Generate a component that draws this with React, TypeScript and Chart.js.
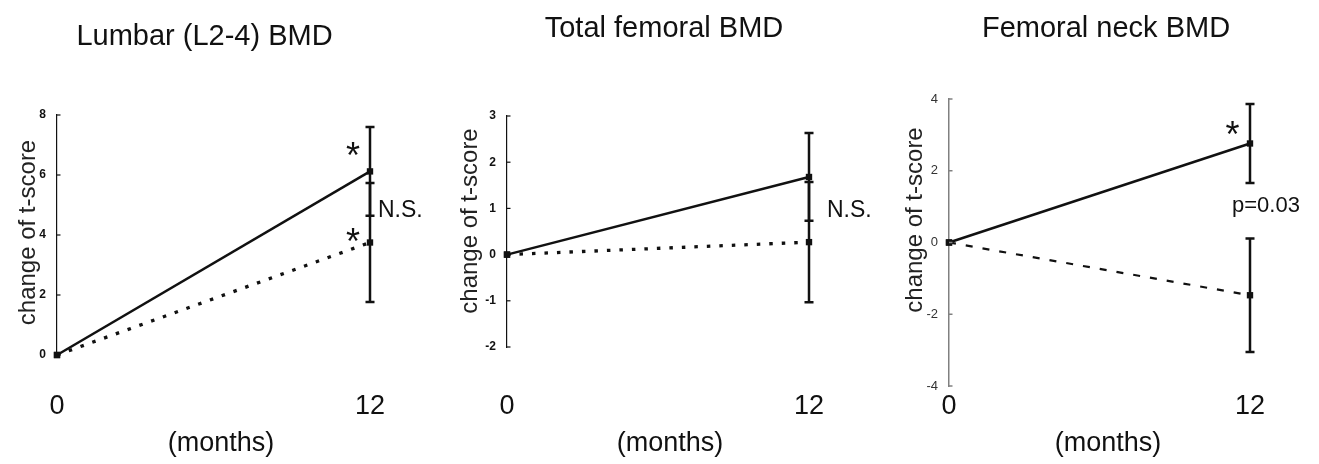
import React, { useEffect, useRef } from "react";
import { Chart, registerables } from "chart.js";

Chart.register(...registerables);

const FONT = '"Liberation Sans", Arial, Helvetica, sans-serif';
const NARROW = '"Liberation Sans Narrow", "Arial Narrow", "Liberation Sans", Arial, sans-serif';
const INK = "#111111";
const H = 464;

// ---- shared axis content ----
const MONTHS = [0, 12];
const MONTH_LABELS = ["0", "12"];
const X_TITLE = "(months)";
const Y_TITLE = "change of t-score";
const TITLES = ["Lumbar (L2-4) BMD", "Total femoral BMD", "Femoral neck BMD"];

// ---- Lumbar (L2-4) BMD ----
const LUMBAR_TICKS = [0, 2, 4, 6, 8];
const LUMBAR_SOLID = [0, 6.12];
const LUMBAR_SOLID_SD = [0, 1.48];
const LUMBAR_DOTTED = [0, 3.75];
const LUMBAR_DOTTED_SD = [0, 1.98];
const LUMBAR_NOTES = ["*", "*", "N.S."];

// ---- Total femoral BMD ----
const TOTAL_TICKS = [-2, -1, 0, 1, 2, 3];
const TOTAL_SOLID = [0, 1.68];
const TOTAL_SOLID_SD = [0, 0.95];
const TOTAL_DOTTED = [0, 0.27];
const TOTAL_DOTTED_SD = [0, 1.3];
const TOTAL_NOTES = ["N.S."];

// ---- Femoral neck BMD ----
const NECK_TICKS = [-4, -2, 0, 2, 4];
const NECK_SOLID = [0, 2.76];
const NECK_SOLID_SD = [0, 1.1];
const NECK_DOTTED = [0, -1.47];
const NECK_DOTTED_SD = [0, 1.58];
const NECK_NOTES = ["*", "p=0.03"];

type Note = { text: string; dx: number; y: number; size: number; star?: boolean };

type PanelCfg = {
  left: number;
  width: number;
  title: string;
  titleX: number;
  titleY: number;
  top: number;
  bottom: number;
  axisX: number;
  right: number;
  yMin: number;
  yMax: number;
  yTicks: number[];
  tickFont: any;
  tickColor: string;
  axisColor: string;
  axisWidth: number;
  yLabelX: number;
  yLabelY: number;
  monthsX: number;
  monthsY: number;
  solid: number[];
  solidSd: number[];
  dotted: number[];
  dottedSd: number[];
  dash: number[];
  dashWidth: number;
  notes: Note[];
};

const PANELS: PanelCfg[] = [
  {
    left: 0, width: 440,
    title: TITLES[0], titleX: 204.5, titleY: 45,
    top: 115, bottom: 355, axisX: 57, right: 370,
    yMin: 0, yMax: 8, yTicks: LUMBAR_TICKS,
    tickFont: { family: NARROW, size: 12, weight: "bold" }, tickColor: INK,
    axisColor: INK, axisWidth: 1.2,
    yLabelX: 35, yLabelY: 232.5,
    monthsX: 221, monthsY: 451,
    solid: LUMBAR_SOLID, solidSd: LUMBAR_SOLID_SD,
    dotted: LUMBAR_DOTTED, dottedSd: LUMBAR_DOTTED_SD,
    dash: [3.5, 9], dashWidth: 3.3,
    notes: [
      { text: LUMBAR_NOTES[0], dx: -17, y: 6.93, size: 36, star: true },
      { text: LUMBAR_NOTES[1], dx: -17, y: 4.07, size: 36, star: true },
      { text: LUMBAR_NOTES[2], dx: 8, y: 4.6, size: 23 },
    ],
  },
  {
    left: 440, width: 440,
    title: TITLES[1], titleX: 224, titleY: 37,
    top: 116, bottom: 347, axisX: 67, right: 369,
    yMin: -2, yMax: 3, yTicks: TOTAL_TICKS,
    tickFont: { family: NARROW, size: 12, weight: "bold" }, tickColor: INK,
    axisColor: INK, axisWidth: 1.2,
    yLabelX: 37, yLabelY: 221,
    monthsX: 230, monthsY: 451,
    solid: TOTAL_SOLID, solidSd: TOTAL_SOLID_SD,
    dotted: TOTAL_DOTTED, dottedSd: TOTAL_DOTTED_SD,
    dash: [3.5, 9], dashWidth: 3.3,
    notes: [{ text: TOTAL_NOTES[0], dx: 18, y: 0.81, size: 23 }],
  },
  {
    left: 880, width: 439,
    title: TITLES[2], titleX: 226, titleY: 37,
    top: 99, bottom: 386, axisX: 69, right: 370,
    yMin: -4, yMax: 4, yTicks: NECK_TICKS,
    tickFont: { family: FONT, size: 13 }, tickColor: "#333333",
    axisColor: "#808080", axisWidth: 1.5,
    yLabelX: 42, yLabelY: 220,
    monthsX: 228, monthsY: 451,
    solid: NECK_SOLID, solidSd: NECK_SOLID_SD,
    dotted: NECK_DOTTED, dottedSd: NECK_DOTTED_SD,
    dash: [7, 10], dashWidth: 2.2,
    notes: [
      { text: NECK_NOTES[0], dx: -17.5, y: 3.24, size: 36, star: true },
      { text: NECK_NOTES[1], dx: -18, y: 0.85, size: 22 },
    ],
  },
];

function Panel({ cfg }: { cfg: PanelCfg }) {
  const ref = useRef<HTMLCanvasElement | null>(null);

  useEffect(() => {
    const canvas = ref.current;
    if (!canvas) return;

    const extras = {
      id: "extras",
      afterDatasetsDraw(chart: any) {
        const ctx = chart.ctx;
        const xs = chart.scales.x;
        const ys = chart.scales.y;
        const bars = [
          { v: cfg.solid, sd: cfg.solidSd },
          { v: cfg.dotted, sd: cfg.dottedSd },
        ];
        ctx.save();
        ctx.strokeStyle = INK;
        ctx.lineWidth = 2.5;
        ctx.setLineDash([]);
        bars.forEach((b) => {
          MONTHS.forEach((m, i) => {
            const e = b.sd[i];
            if (!e) return;
            const px = xs.getPixelForValue(m);
            const y1 = ys.getPixelForValue(b.v[i] + e);
            const y2 = ys.getPixelForValue(b.v[i] - e);
            ctx.beginPath();
            ctx.moveTo(px, y1);
            ctx.lineTo(px, y2);
            ctx.moveTo(px - 4.5, y1);
            ctx.lineTo(px + 4.5, y1);
            ctx.moveTo(px - 4.5, y2);
            ctx.lineTo(px + 4.5, y2);
            ctx.stroke();
          });
        });
        ctx.restore();
      },
      afterDraw(chart: any) {
        const ctx = chart.ctx;
        const xs = chart.scales.x;
        const ys = chart.scales.y;
        ctx.save();
        // inward tick marks on the y axis
        ctx.strokeStyle = cfg.axisColor;
        ctx.lineWidth = cfg.axisWidth;
        const ax = chart.chartArea.left;
        cfg.yTicks.forEach((v) => {
          const py = ys.getPixelForValue(v);
          ctx.beginPath();
          ctx.moveTo(ax, py);
          ctx.lineTo(ax + 3.5, py);
          ctx.stroke();
        });

        ctx.fillStyle = INK;
        // panel title
        ctx.font = `29px ${FONT}`;
        ctx.textAlign = "center";
        ctx.textBaseline = "alphabetic";
        ctx.fillText(cfg.title, cfg.titleX, cfg.titleY);

        // x axis title
        ctx.font = `27px ${FONT}`;
        ctx.fillText(X_TITLE, cfg.monthsX, cfg.monthsY);

        // y axis title
        ctx.save();
        ctx.translate(cfg.yLabelX, cfg.yLabelY);
        ctx.rotate(-Math.PI / 2);
        ctx.font = `24px ${FONT}`;
        ctx.fillStyle = "#222222";
        ctx.fillText(Y_TITLE, 0, 0);
        ctx.restore();

        // annotations next to the 12-month values
        const x12 = xs.getPixelForValue(MONTHS[1]);
        cfg.notes.forEach((n) => {
          ctx.font = `${n.size}px ${FONT}`;
          const py = ys.getPixelForValue(n.y);
          if (n.star) {
            ctx.textAlign = "center";
            ctx.fillText(n.text, x12 + n.dx, py + 0.575 * n.size);
          } else {
            ctx.textAlign = "left";
            ctx.fillText(n.text, x12 + n.dx, py);
          }
        });
        ctx.restore();
      },
    };

    const toPts = (vals: number[]) => MONTHS.map((m, i) => ({ x: m, y: vals[i] }));

    const chart = new Chart(canvas, {
      type: "line",
      data: {
        datasets: [
          {
            data: toPts(cfg.dotted),
            borderColor: INK,
            backgroundColor: INK,
            borderWidth: cfg.dashWidth,
            borderDash: cfg.dash,
            borderCapStyle: "butt",
            pointStyle: "rect",
            pointRadius: 4.5,
            pointBorderWidth: 0,
            pointBackgroundColor: INK,
            tension: 0,
            clip: false,
          } as any,
          {
            data: toPts(cfg.solid),
            borderColor: INK,
            backgroundColor: INK,
            borderWidth: 2.5,
            pointStyle: "rect",
            pointRadius: 4.5,
            pointBorderWidth: 0,
            pointBackgroundColor: INK,
            tension: 0,
            clip: false,
          } as any,
        ],
      },
      options: {
        responsive: false,
        animation: false,
        events: [],
        layout: {
          padding: { top: cfg.top, right: cfg.width - cfg.right, bottom: 0, left: 0 },
        },
        plugins: {
          legend: { display: false },
          title: { display: false },
          tooltip: { enabled: false },
        },
        scales: {
          x: {
            type: "linear",
            min: MONTHS[0],
            max: MONTHS[1],
            grid: { display: false, drawTicks: false },
            border: { display: false },
            afterBuildTicks: (s: any) => {
              s.ticks = MONTHS.map((v) => ({ value: v }));
            },
            afterFit: (s: any) => {
              s.height = H - cfg.bottom;
            },
            ticks: {
              padding: 390.8 - cfg.bottom,
              maxRotation: 0,
              autoSkip: false,
              color: INK,
              font: { family: FONT, size: 27 },
              callback: (v: any) => MONTH_LABELS[MONTHS.indexOf(Number(v))] ?? "",
            },
          },
          y: {
            type: "linear",
            min: cfg.yMin,
            max: cfg.yMax,
            grid: { display: false, drawTicks: false },
            border: { display: true, color: cfg.axisColor, width: cfg.axisWidth },
            afterBuildTicks: (s: any) => {
              s.ticks = cfg.yTicks.map((v) => ({ value: v }));
            },
            afterFit: (s: any) => {
              s.width = cfg.axisX;
            },
            ticks: {
              padding: 11,
              autoSkip: false,
              color: cfg.tickColor,
              font: cfg.tickFont,
              callback: (v: any) => String(v),
            },
          },
        },
      } as any,
      plugins: [extras],
    });

    return () => chart.destroy();
  }, [cfg]);

  return (
    <canvas
      ref={ref}
      width={cfg.width}
      height={H}
      style={{ position: "absolute", left: cfg.left, top: 0, width: cfg.width, height: H }}
    />
  );
}

export default function App() {
  return (
    <div style={{ position: "absolute", left: 0, top: 0, width: 1319, height: H, background: "#fff" }}>
      {PANELS.map((p, i) => (
        <Panel key={i} cfg={p} />
      ))}
    </div>
  );
}
